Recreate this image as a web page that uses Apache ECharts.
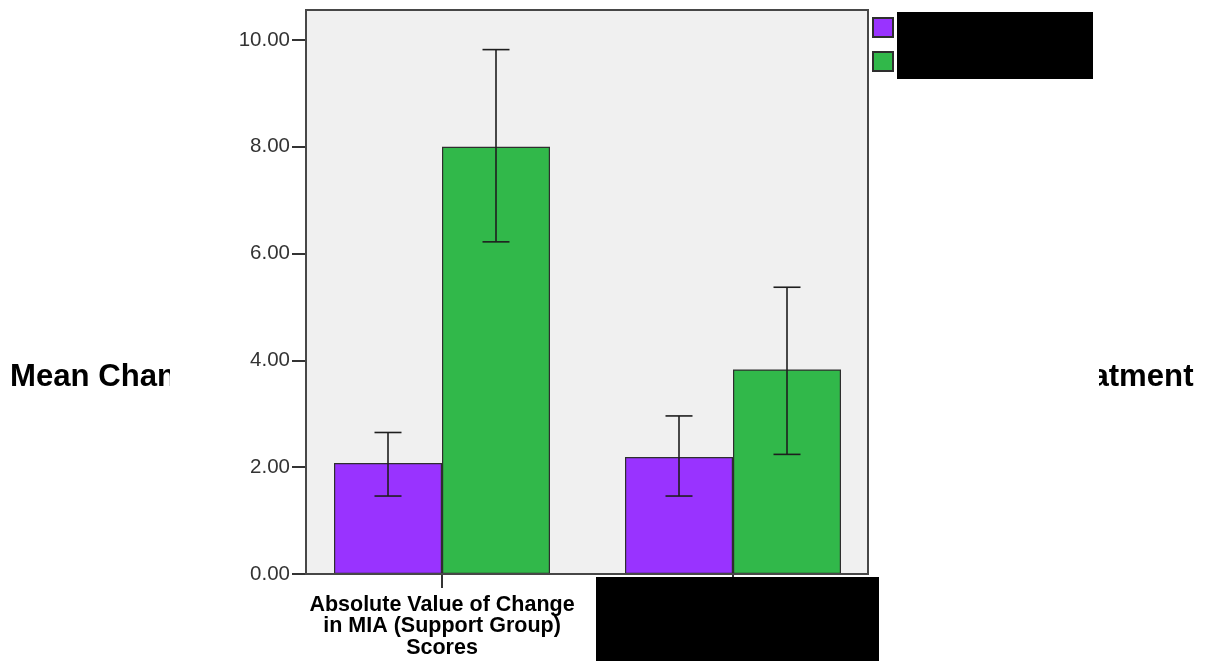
<!DOCTYPE html>
<html>
<head>
<meta charset="utf-8">
<script src="https://cdn.jsdelivr.net/npm/echarts@6/dist/echarts.min.js"></script>
<style>
  html, body { margin: 0; padding: 0; background: #fff; }
  #chart { width: 1207px; height: 661px; }
</style>
</head>
<body>
<div id="chart"></div>
<script>
// Outcome measures on the category axis
const categories = [
  'Absolute Value of Change\nin MIA (Support Group)\nScores',
  'Absolute Value of Change\nin MIA (Individual)\nScores'
];
// Group names
const groupNames = ['Control', 'Treatment'];
// Group means per outcome
const controlMeans = [2.08, 2.19];
const treatmentMeans = [8.00, 3.83];
// Error bar limits per outcome: [low, high]
const controlErr = [[1.46, 2.65], [1.46, 2.96]];
const treatmentErr = [[6.22, 9.82], [2.24, 5.37]];
// Value axis ticks
const yMin = 0, yMax = 10, yStep = 2;

const titleText = 'Mean Change in Absolute Value of MIA Scores by Support Group and Treatment';

const BAR_WIDTH = 108;
const CAP_HALF = 13.5;
const FONT = '"Liberation Sans", Arial, sans-serif';

// Plot frame (SPSS-style inner box)
const frame = { x1: 306, y1: 10, x2: 868, y2: 574 };

const chart = echarts.init(document.getElementById('chart'));

function errorSeries(name, errs, side) {
  return {
    type: 'custom',
    name: name + ' CI',
    z: 12,
    silent: true,
    clip: false,
    data: errs.map((e, i) => [i, e[0], e[1]]),
    renderItem: function (params, api) {
      const lo = api.coord([api.value(0), api.value(1)]);
      const hi = api.coord([api.value(0), api.value(2)]);
      const x = lo[0] + side * BAR_WIDTH / 2;
      const style = { stroke: '#1e1e1e', lineWidth: 1.6 };
      return {
        type: 'group',
        children: [
          { type: 'line', shape: { x1: x, y1: hi[1], x2: x, y2: lo[1] }, style },
          { type: 'line', shape: { x1: x - CAP_HALF, y1: hi[1], x2: x + CAP_HALF, y2: hi[1] }, style },
          { type: 'line', shape: { x1: x - CAP_HALF, y1: lo[1], x2: x + CAP_HALF, y2: lo[1] }, style }
        ]
      };
    }
  };
}

chart.setOption({
  backgroundColor: '#ffffff',
  animation: false,
  textStyle: { fontFamily: FONT },
  grid: { left: 296.5, right: 328.5, top: 40, bottom: 87 },
  legend: {
    data: groupNames,
    orient: 'vertical',
    left: 872,
    top: 17,
    padding: 0,
    itemWidth: 20,
    itemHeight: 19,
    itemGap: 13,
    icon: 'rect',
    z: 20,
    textStyle: { fontSize: 18, lineHeight: 19, color: '#000', fontFamily: FONT }
  },
  xAxis: {
    type: 'category',
    data: categories,
    z: 10,
    axisLine: { show: false },
    axisTick: { show: true, alignWithLabel: true, length: 14, lineStyle: { color: '#333', width: 2 } },
    axisLabel: {
      margin: 20,
      fontSize: 21.5,
      fontWeight: 'bold',
      lineHeight: 21.5,
      color: '#000',
      fontFamily: FONT,
      interval: 0
    },
    splitLine: { show: false }
  },
  yAxis: {
    type: 'value',
    min: yMin,
    max: yMax,
    interval: yStep,
    offset: -9.5,
    z: 10,
    axisLine: { show: false },
    axisTick: { show: true, length: 14, lineStyle: { color: '#333', width: 2 } },
    axisLabel: {
      margin: 16,
      fontSize: 20.5,
      color: '#333',
      fontFamily: FONT,
      formatter: v => v.toFixed(2)
    },
    splitLine: { show: false }
  },
  series: [
    {
      type: 'bar',
      name: groupNames[0],
      data: controlMeans,
      barWidth: BAR_WIDTH,
      barGap: '0%',
      z: 11,
      itemStyle: { color: '#9933ff', borderColor: '#2e2e2e', borderWidth: 1.2 }
    },
    {
      type: 'bar',
      name: groupNames[1],
      data: treatmentMeans,
      barWidth: BAR_WIDTH,
      barGap: '0%',
      z: 11,
      itemStyle: { color: '#31b84a', borderColor: '#2e2e2e', borderWidth: 1.2 }
    },
    errorSeries(groupNames[0], controlErr, -1),
    errorSeries(groupNames[1], treatmentErr, 1)
  ],
  graphic: [
    {
      type: 'text', z: 0, silent: true,
      style: {
        x: 10, y: 377, text: titleText,
        font: 'bold 31.15px ' + FONT, fill: '#000',
        verticalAlign: 'middle', align: 'left'
      }
    },
    // chart body sits over the title
    { type: 'rect', z: 1, silent: true,
      shape: { x: 170, y: 0, width: 929, height: 661 }, style: { fill: '#ffffff' } },
    { type: 'rect', z: 2, silent: true,
      shape: { x: frame.x1, y: frame.y1, width: frame.x2 - frame.x1, height: frame.y2 - frame.y1 },
      style: { fill: '#f0f0f0' } },
    { type: 'rect', z: 13, silent: true,
      shape: { x: frame.x1, y: frame.y1, width: frame.x2 - frame.x1, height: frame.y2 - frame.y1 },
      style: { fill: null, stroke: '#474747', lineWidth: 2 } },
    // redacted areas
    { type: 'rect', z: 30, silent: true,
      shape: { x: 897, y: 12, width: 196, height: 67 }, style: { fill: '#000' } },
    { type: 'rect', z: 30, silent: true,
      shape: { x: 596, y: 577, width: 283, height: 84 }, style: { fill: '#000' } }
  ]
});
</script>
</body>
</html>
